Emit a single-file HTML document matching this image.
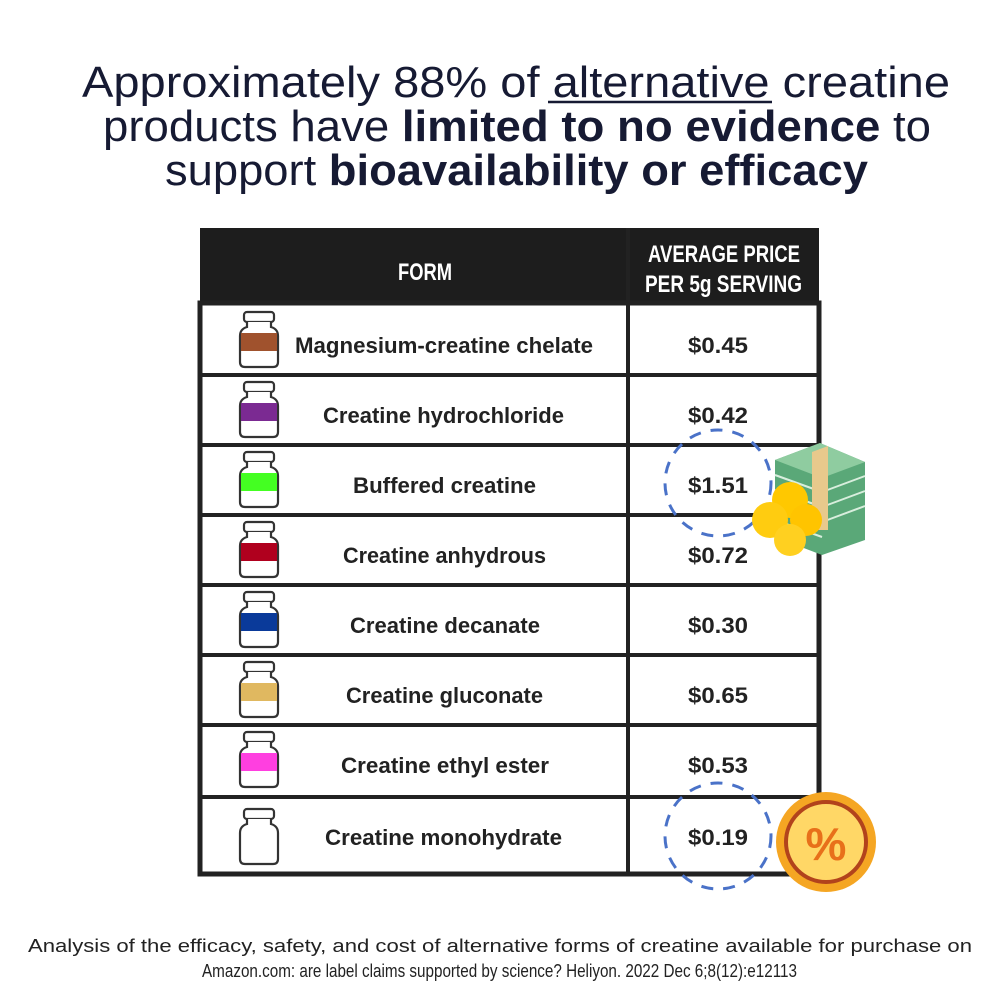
<!DOCTYPE html>
<html><head><meta charset="utf-8"><style>
html,body{margin:0;padding:0;background:#fff;}
svg{display:block}
</style></head><body>
<svg width="1000" height="1000" viewBox="0 0 1000 1000" xmlns="http://www.w3.org/2000/svg">
<rect width="1000" height="1000" fill="#fff"/>
<g font-family="Liberation Sans, sans-serif" fill="#161a33" font-size="44">
<text x="82" y="97" textLength="868" lengthAdjust="spacingAndGlyphs">Approximately 88% of alternative creatine</text>
<line x1="548" y1="102" x2="772" y2="102" stroke="#161a33" stroke-width="2.5"/>
<text x="103" y="141" textLength="828" lengthAdjust="spacingAndGlyphs">products have <tspan font-weight="bold">limited to no evidence</tspan> to</text>
<text x="165" y="185" textLength="703" lengthAdjust="spacingAndGlyphs">support <tspan font-weight="bold">bioavailability or efficacy</tspan></text>
</g>
<rect x="200" y="228" width="619" height="77" fill="#1d1d1d"/>
<rect x="200" y="303" width="619" height="571" fill="#fff" stroke="#222" stroke-width="5"/>
<line x1="628" y1="228" x2="628" y2="872" stroke="#222" stroke-width="4"/>
<g stroke="#222" stroke-width="4">
<line x1="200" y1="375" x2="819" y2="375"/><line x1="200" y1="445" x2="819" y2="445"/>
<line x1="200" y1="515" x2="819" y2="515"/><line x1="200" y1="585" x2="819" y2="585"/>
<line x1="200" y1="655" x2="819" y2="655"/><line x1="200" y1="725" x2="819" y2="725"/>
<line x1="200" y1="797" x2="819" y2="797"/>
</g>
<g font-family="Liberation Sans, sans-serif" font-weight="bold" fill="#fff" font-size="24">
<text x="398" y="280" textLength="54" lengthAdjust="spacingAndGlyphs">FORM</text>
<text x="648" y="262" textLength="152" lengthAdjust="spacingAndGlyphs">AVERAGE PRICE</text>
<text x="645" y="292" textLength="157" lengthAdjust="spacingAndGlyphs">PER 5g SERVING</text>
</g>
<defs>
<g id="jar">
<rect x="-15" y="0" width="30" height="10" rx="3" fill="#fff" stroke="#333" stroke-width="2.2"/>
<path d="M-12 10 L-12 15 Q-19 17 -19 24 L-19 50 Q-19 55 -14 55 L14 55 Q19 55 19 50 L19 24 Q19 17 12 15 L12 10" fill="#fff" stroke="#333" stroke-width="2.2"/>
</g>
</defs>
<g font-family="Liberation Sans, sans-serif" font-weight="bold" fill="#222" font-size="22">
<use href="#jar" x="259" y="312"/><rect x="241" y="333" width="36" height="18" fill="#a0522d"/>
<text x="295" y="353" textLength="298" lengthAdjust="spacingAndGlyphs">Magnesium-creatine chelate</text>
<text x="688" y="353" textLength="60" lengthAdjust="spacingAndGlyphs">$0.45</text>

<use href="#jar" x="259" y="382"/><rect x="241" y="403" width="36" height="18" fill="#7b2a92"/>
<text x="323" y="423" textLength="241" lengthAdjust="spacingAndGlyphs">Creatine hydrochloride</text>
<text x="688" y="423" textLength="60" lengthAdjust="spacingAndGlyphs">$0.42</text>

<use href="#jar" x="259" y="452"/><rect x="241" y="473" width="36" height="18" fill="#44ff22"/>
<text x="353" y="493" textLength="183" lengthAdjust="spacingAndGlyphs">Buffered creatine</text>
<text x="688" y="493" textLength="60" lengthAdjust="spacingAndGlyphs">$1.51</text>

<use href="#jar" x="259" y="522"/><rect x="241" y="543" width="36" height="18" fill="#b0001e"/>
<text x="343" y="563" textLength="203" lengthAdjust="spacingAndGlyphs">Creatine anhydrous</text>
<text x="688" y="563" textLength="60" lengthAdjust="spacingAndGlyphs">$0.72</text>

<use href="#jar" x="259" y="592"/><rect x="241" y="613" width="36" height="18" fill="#0a3a9a"/>
<text x="350" y="633" textLength="190" lengthAdjust="spacingAndGlyphs">Creatine decanate</text>
<text x="688" y="633" textLength="60" lengthAdjust="spacingAndGlyphs">$0.30</text>

<use href="#jar" x="259" y="662"/><rect x="241" y="683" width="36" height="18" fill="#e0b860"/>
<text x="346" y="703" textLength="197" lengthAdjust="spacingAndGlyphs">Creatine gluconate</text>
<text x="688" y="703" textLength="60" lengthAdjust="spacingAndGlyphs">$0.65</text>

<use href="#jar" x="259" y="732"/><rect x="241" y="753" width="36" height="18" fill="#ff3fe0"/>
<text x="341" y="773" textLength="208" lengthAdjust="spacingAndGlyphs">Creatine ethyl ester</text>
<text x="688" y="773" textLength="60" lengthAdjust="spacingAndGlyphs">$0.53</text>

<use href="#jar" x="259" y="809"/>
<text x="325" y="845" textLength="237" lengthAdjust="spacingAndGlyphs">Creatine monohydrate</text>
<text x="688" y="845" textLength="60" lengthAdjust="spacingAndGlyphs">$0.19</text>
</g>
<circle cx="718" cy="483" r="53" fill="none" stroke="#4a72c8" stroke-width="3" stroke-dasharray="12 10"/>
<circle cx="718" cy="836" r="53" fill="none" stroke="#4a72c8" stroke-width="3" stroke-dasharray="12 10"/>
<g>
<path d="M775 460 L820 443 L865 462 L865 540 L822 555 L775 537 Z" fill="#5aa878"/>
<path d="M775 460 L820 443 L865 462 L822 478 Z" fill="#8fcca0"/>
<g stroke="#d8eedd" stroke-width="2"><line x1="775" y1="475" x2="822" y2="492"/><line x1="775" y1="490" x2="822" y2="507"/><line x1="775" y1="505" x2="822" y2="522"/><line x1="775" y1="520" x2="822" y2="537"/><line x1="822" y1="492" x2="865" y2="476"/><line x1="822" y1="507" x2="865" y2="491"/><line x1="822" y1="522" x2="865" y2="506"/></g>
<path d="M812 452 L828 446 L828 530 L812 530 Z" fill="#e8c98c"/>
<circle cx="790" cy="500" r="18" fill="#ffc800"/>
<circle cx="770" cy="520" r="18" fill="#ffcc10"/>
<circle cx="806" cy="520" r="16" fill="#ffc400"/>
<circle cx="790" cy="540" r="16" fill="#ffd020"/>
</g>
<g>
<circle cx="826" cy="842" r="50" fill="#f5a623"/>
<circle cx="826" cy="842" r="40" fill="#ffd766" stroke="#b2431c" stroke-width="4"/>
<text x="826" y="860" font-family="Liberation Sans, sans-serif" font-weight="bold" font-size="46" fill="#e8701a" text-anchor="middle">%</text>
</g>
<g font-family="Liberation Sans, sans-serif" fill="#222" font-size="18">
<text x="28" y="952" textLength="944" lengthAdjust="spacingAndGlyphs">Analysis of the efficacy, safety, and cost of alternative forms of creatine available for purchase on</text>
<text x="202" y="977" textLength="595" lengthAdjust="spacingAndGlyphs">Amazon.com: are label claims supported by science? Heliyon. 2022 Dec 6;8(12):e12113</text>
</g>
</svg>
</body></html>
